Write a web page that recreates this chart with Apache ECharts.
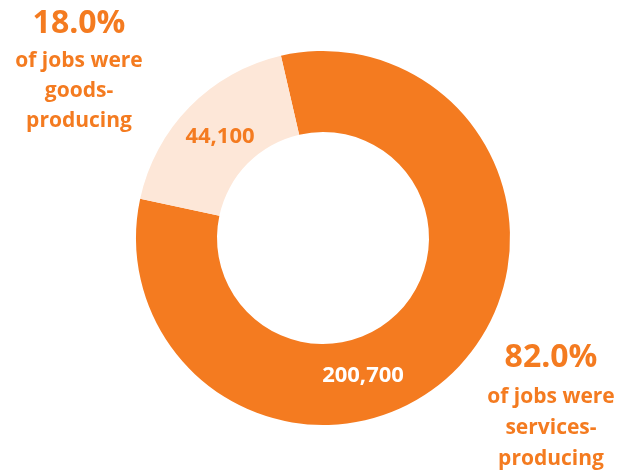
<!DOCTYPE html>
<html><head><meta charset="utf-8">
<script src="https://cdn.jsdelivr.net/npm/echarts@6/dist/echarts.min.js"></script>
<style>html,body{margin:0;padding:0;background:#fff}#c{width:637px;height:472px}</style>
</head><body><div id="c"></div>
<script>
const categories = ['Services-producing', 'Goods-producing'];
const jobs = [200700, 44100];
const shares = ['82.0%', '18.0%'];
const notes = [['of jobs were', 'services-', 'producing'], ['of jobs were', 'goods-', 'producing']];
const colors = ['#F47B20', '#FDE7D8'];
const labelColors = ['#FFFFFF', '#F47B20'];
const FONT = '"Open Sans", sans-serif';
const ORANGE = '#F47B20';

const chart = echarts.init(document.getElementById('c'));

function block(x, y, share, lines, first, step) {
  const els = [{
    type: 'text', x: x, y: y,
    style: { text: share, fill: ORANGE, font: 'bold 32px ' + FONT, align: 'center', verticalAlign: 'middle' }
  }];
  lines.forEach((t, i) => {
    els.push({
      type: 'text', x: x, y: y + first + i * step,
      style: { text: t, fill: ORANGE, font: 'bold 21px ' + FONT, align: 'center', verticalAlign: 'middle' }
    });
  });
  return els;
}

chart.setOption({
  animation: false,
  series: [{
    type: 'pie',
    center: [323, 238],
    radius: [106, 187],
    startAngle: 103,
    clockwise: true,
    silent: true,
    data: categories.map((c, i) => ({
      name: c, value: jobs[i],
      itemStyle: { color: colors[i] },
      label: { color: labelColors[i] }
    })),
    label: {
      show: true, position: 'inside',
      formatter: p => p.value.toLocaleString('en-US'),
      fontFamily: FONT, fontWeight: 'bold', fontSize: 22
    },
    labelLine: { show: false },
    labelLayout: function (p) {
      if (p.dataIndex === 0) return { x: 363, y: 376, align: 'center', verticalAlign: 'middle' };
      return { x: 220, y: 137, align: 'center', verticalAlign: 'middle' };
    }
  }],
  graphic: [].concat(block(79, 24, shares[1], notes[1], 37, 30), block(551, 358, shares[0], notes[0], 39, 31))
});
</script></body></html>
